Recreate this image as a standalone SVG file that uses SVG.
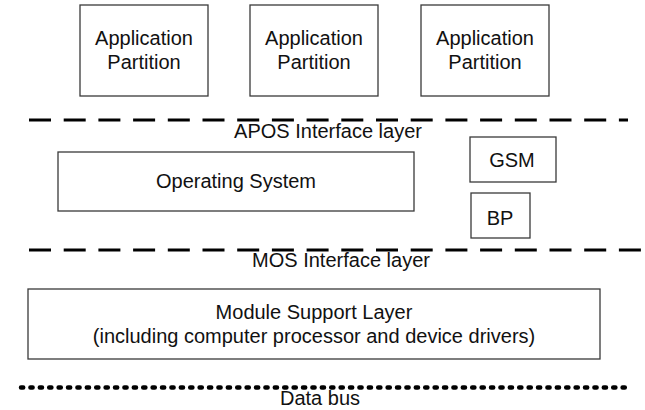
<svg xmlns="http://www.w3.org/2000/svg" width="645" height="410" viewBox="0 0 645 410">
  <style>
    .box { fill: #ffffff; stroke: #3a3a3a; stroke-width: 1.3; }
    .lbl { font-family: "Liberation Sans", Arial, sans-serif; font-size: 20px; fill: #111111; text-anchor: middle; }
    .dash { stroke: #000000; stroke-width: 3; stroke-dasharray: 22 12.7; fill: none; }
    .dots { stroke: #000000; stroke-width: 4.5; stroke-dasharray: 2.2 7.2; stroke-linecap: round; fill: none; }
  </style>
  <rect width="645" height="410" fill="#ffffff"/>

  <!-- application partitions -->
  <g id="app1">
    <rect class="box" x="80" y="5" width="128" height="91"/>
    <text class="lbl" x="144" y="45">Application</text>
    <text class="lbl" x="144" y="69">Partition</text>
  </g>
  <g id="app2">
    <rect class="box" x="250" y="5" width="128" height="91"/>
    <text class="lbl" x="314" y="45">Application</text>
    <text class="lbl" x="314" y="69">Partition</text>
  </g>
  <g id="app3">
    <rect class="box" x="421" y="5" width="128" height="91"/>
    <text class="lbl" x="485" y="45">Application</text>
    <text class="lbl" x="485" y="69">Partition</text>
  </g>

  <!-- layer boundaries and bus -->
  <g id="connectors">
    <line class="dash" x1="29" y1="120" x2="628" y2="120"/>
    <line class="dash" x1="29" y1="250" x2="642" y2="250"/>
    <line class="dots" x1="21" y1="387.5" x2="625" y2="387.5"/>
  </g>

  <g id="apos-label">
    <text class="lbl" x="328" y="138">APOS Interface layer</text>
  </g>

  <g id="os">
    <rect class="box" x="58" y="152" width="356" height="59"/>
    <text class="lbl" x="236" y="188">Operating System</text>
  </g>
  <g id="gsm">
    <rect class="box" x="470" y="137" width="86" height="45"/>
    <text class="lbl" x="512" y="167">GSM</text>
  </g>
  <g id="bp">
    <rect class="box" x="471" y="193" width="59" height="45"/>
    <text class="lbl" x="500" y="225">BP</text>
  </g>

  <g id="mos-label">
    <text class="lbl" x="341" y="267">MOS Interface layer</text>
  </g>

  <g id="msl">
    <rect class="box" x="28" y="289" width="572" height="70"/>
    <text class="lbl" x="314" y="319">Module Support Layer</text>
    <text class="lbl" x="314" y="343">(including computer processor and device drivers)</text>
  </g>

  <g id="bus-label">
    <text class="lbl" x="320" y="405">Data bus</text>
  </g>
</svg>
